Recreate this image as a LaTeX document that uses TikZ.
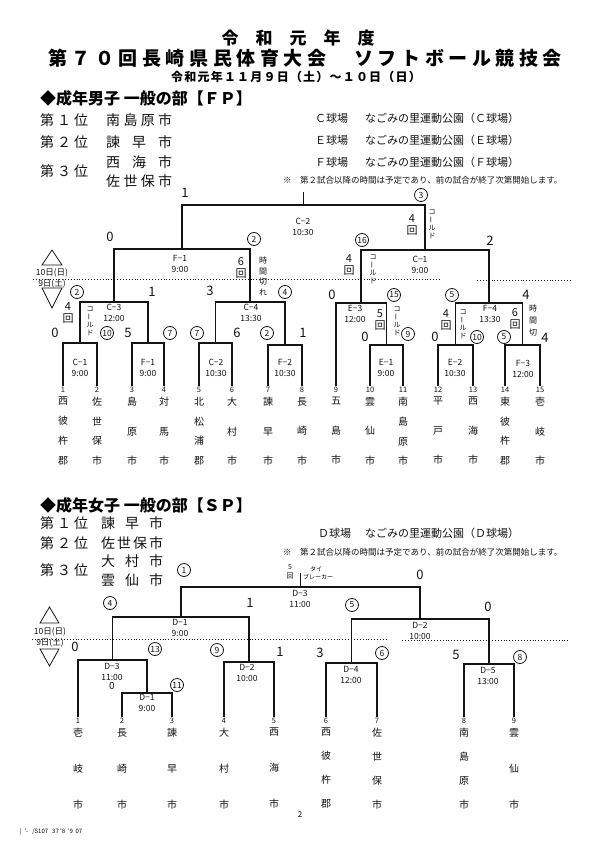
\documentclass[tikz,border=0pt]{standalone}
\usepackage{fontspec}
\usepackage{graphicx}
\setmainfont{Noto Sans CJK JP}
\newfontfamily\ttlfont[LetterSpace=24]{Noto Sans CJK JP}
\newfontfamily\dtfont[LetterSpace=10]{Noto Sans CJK JP}
\definecolor{scanInk}{RGB}{20,20,20}
\newcommand\cho{\rotatebox[origin=c]{90}{ー}}
\newcommand\kold{コ\\\cho\\ル\\ド}
\tikzset{
  bk/.style={draw=scanInk,line width=1.6pt},
  dayline/.style={draw=scanInk,dotted,line width=0.9pt},
  mlab/.style={font=\fontsize{8.5}{11}\selectfont,align=center,inner sep=0pt,text=scanInk},
  sc/.style={font=\fontsize{13}{13}\selectfont,inner sep=0pt,text=scanInk},
  kai/.style={font=\fontsize{11}{12}\selectfont,align=center,inner sep=0pt,text=scanInk},
  cn/.style={circle,draw=scanInk,line width=0.8pt,inner sep=0pt,minimum size=13pt,
    font=\fontsize{8.5}{8.5}\selectfont,text=scanInk},
  vn/.style={font=\fontsize{7}{8}\selectfont,align=center,inner sep=0pt,anchor=north,text=scanInk},
  tnum/.style={font=\fontsize{7.5}{7.5}\selectfont,inner sep=0.5pt,anchor=north,text=scanInk},
  tnm3/.style={font=\fontsize{10}{29.5}\selectfont,align=center,inner sep=0pt,anchor=north,text=scanInk},
  tnm4/.style={font=\fontsize{10}{19.7}\selectfont,align=center,inner sep=0pt,anchor=north,text=scanInk},
  wnm3/.style={font=\fontsize{10}{36}\selectfont,align=center,inner sep=0pt,anchor=north,text=scanInk},
  wnm4/.style={font=\fontsize{10}{24}\selectfont,align=center,inner sep=0pt,anchor=north,text=scanInk},
  res/.style={font=\fontsize{14}{14}\selectfont,anchor=west,inner sep=0pt,text=scanInk},
  venue/.style={font=\fontsize{11}{11}\selectfont,anchor=west,inner sep=0pt,text=scanInk},
  note/.style={font=\fontsize{8.5}{8.5}\selectfont,anchor=west,inner sep=0pt,text=scanInk},
  dayl/.style={font=\fontsize{8.5}{8.5}\selectfont,inner sep=0pt,text=scanInk},
  tri/.style={draw=scanInk,line width=0.8pt}
}

\begin{document}
\begin{tikzpicture}[x=1pt,y=-1pt]
        \useasboundingbox (0,0) rectangle (595,842);
        \fill[white] (0,0) rectangle (595,842);
        % Titulo
        \node[font=\bfseries\fontsize{17}{17}\selectfont,inner sep=0pt] (ttl1) at (298,38)
          {令\hspace{17pt}和\hspace{17pt}元\hspace{17pt}年\hspace{17pt}度};
        \node[font=\ttlfont\bfseries\fontsize{19}{19}\selectfont,inner sep=0pt] (ttl2) at (305,58)
          {第７０回長崎県民体育大会　ソフトボール競技会};
        \node[font=\dtfont\bfseries\fontsize{12}{12}\selectfont,inner sep=0pt] (ttl3) at (296,77)
          {令和元年１１月９日（土）～１０日（日）};
        % Men: heading and results
        \node[font=\bfseries\fontsize{16}{16}\selectfont,anchor=west,inner sep=0pt] (hdM) at (40,98)
          {◆成年男子 一般の部【ＦＰ】};
        \node[res] (rkM1) at (40,120) {\makebox[48pt]{第\hfill{}１\hfill{}位}};
        \node[res] (tmM1) at (106,120) {\makebox[66pt]{南\hfill{}島\hfill{}原\hfill{}市}};
        \node[res] (rkM2) at (40,142) {\makebox[48pt]{第\hfill{}２\hfill{}位}};
        \node[res] (tmM2) at (106,142) {\makebox[66pt]{諫\hfill{}早\hfill{}市}};
        \node[res] (rkM3) at (40,171) {\makebox[48pt]{第\hfill{}３\hfill{}位}};
        \node[res] (tmM3a) at (106,162) {\makebox[66pt]{西\hfill{}海\hfill{}市}};
        \node[res] (tmM3b) at (106,181) {\makebox[66pt]{佐\hfill{}世\hfill{}保\hfill{}市}};
        \node[venue] (vC) at (315,118) {Ｃ球場};
        \node[venue] (vCn) at (365,118) {なごみの里運動公園（Ｃ球場）};
        \node[venue] (vE) at (315,140) {Ｅ球場};
        \node[venue] (vEn) at (365,140) {なごみの里運動公園（Ｅ球場）};
        \node[venue] (vF) at (315,162) {Ｆ球場};
        \node[venue] (vFn) at (365,162) {なごみの里運動公園（Ｆ球場）};
        \node[note] (ntM) at (283,180) {※　第２試合以降の時間は予定であり、前の試合が終了次第開始します。};
        % Men: teams
        \foreach \x/\n/\nm/\k in {63/1/{西\\彼\\杵\\郡}/4, 97/2/{佐\\世\\保\\市}/4,
            132/3/{島\\原\\市}/3, 164/4/{対\\馬\\市}/3, 199/5/{北\\松\\浦\\郡}/4,
            232/6/{大\\村\\市}/3, 268/7/{諫\\早\\市}/3, 302/8/{長\\崎\\市}/3,
            336/9/{五\\島\\市}/3, 370/10/{雲\\仙\\市}/3, 403/11/{南\\島\\原\\市}/4,
            438/12/{平\\戸\\市}/3, 473/13/{西\\海\\市}/3, 505/14/{東\\彼\\杵\\郡}/4,
            540/15/{壱\\岐\\市}/3}{
          \node[tnum] (ta\n) at (\x,386) {\n};
          \node[tnm\k] (na\n) at (\x,397) {\nm};
        }
        % Men: match points
        \coordinate (mC1) at (80,343);
        \coordinate (mF1) at (148,343);
        \coordinate (mC2) at (215.5,343);
        \coordinate (mF2) at (285,345);
        \coordinate (mE1) at (386.5,345);
        \coordinate (mE2) at (455.5,345);
        \coordinate (mF3) at (522.5,345);
        \coordinate (mC3) at (114,302);
        \coordinate (mC4) at (250,302);
        \coordinate (mE3) at (361,303);
        \coordinate (mF4) at (489,303);
        \coordinate (mF1b) at (182,249);
        \coordinate (mC1b) at (425,250);
        \coordinate (mC2b) at (303.5,205);
        \coordinate (topM) at (303.5,192);
        % Men: brackets
        \draw[bk] (ta1.north) |- (mC1) -| (ta2.north);
        \draw[bk] (ta3.north) |- (mF1) -| (ta4.north);
        \draw[bk] (ta5.north) |- (mC2) -| (ta6.north);
        \draw[bk] (ta7.north) |- (mF2) -| (ta8.north);
        \draw[bk] (ta10.north) |- (mE1) -| (ta11.north);
        \draw[bk] (ta12.north) |- (mE2) -| (ta13.north);
        \draw[bk] (ta14.north) |- (mF3) -| (ta15.north);
        \draw[bk] (mC1) |- (mC3) -| (mF1);
        \draw[bk] (mC2) |- (mC4) -| (mF2);
        \draw[bk] (ta9.north) |- (mE3) -| (mE1);
        \draw[bk] (mE2) |- (mF4) -| (mF3);
        \draw[bk] (mC3) |- (mF1b) -| (mC4);
        \draw[bk] (mE3) |- (mC1b) -| (mF4);
        \draw[bk] (mF1b) |- (mC2b) -| (mC1b);
        \draw[bk] (mC2b) -- (topM);
        % Men: game labels
        \node[mlab] (lC2b) at (303,227) {C−2\\10:30};
        \node[mlab] (lF1b) at (180,263.5) {F−1\\9:00};
        \node[mlab] (lC1b) at (420,264.5) {C−1\\9:00};
        \node[mlab] (lC3) at (114,312.5) {C−3\\12:00};
        \node[mlab] (lC4) at (251,313) {C−4\\13:30};
        \node[mlab] (lE3) at (355,313.5) {E−3\\12:00};
        \node[mlab] (lF4) at (490,314) {F−4\\13:30};
        \node[mlab] (lC1) at (80,367.5) {C−1\\9:00};
        \node[mlab] (lF1) at (148,367.5) {F−1\\9:00};
        \node[mlab] (lC2) at (216,367.5) {C−2\\10:30};
        \node[mlab] (lF2) at (285,367.5) {F−2\\10:30};
        \node[mlab] (lE1) at (386,367.5) {E−1\\9:00};
        \node[mlab] (lE2) at (455,367.5) {E−2\\10:30};
        \node[mlab] (lF3) at (523,368.5) {F−3\\12:00};
        % Men: day line
        \draw[dayline] (33,279) -- (440,279);
        \draw[dayline] (477,280) -- (572,280);
        \draw[tri] (42,265) -- (52,250) -- (62,265) -- cycle;
        \draw[tri] (42,288) -- (62,288) -- (52,308) -- cycle;
        \node[dayl] (d10M) at (52,273) {10日(日)};
        \node[dayl] (d9M) at (52,284) {9日(土)};
        % Men: scores
        \node[sc] (sM1) at (185,193) {1};
        \node[sc] (sM2) at (110,237) {0};
        \node[sc] (sM3) at (490,241) {2};
        \node[sc] (sM4) at (152,292) {1};
        \node[sc] (sM5) at (210,291) {3};
        \node[sc] (sM6) at (55,333) {0};
        \node[sc] (sM7) at (128,333) {5};
        \node[sc] (sM8) at (237,333) {6};
        \node[sc] (sM9) at (303,333) {1};
        \node[sc] (sM10) at (332,295) {0};
        \node[sc] (sM11) at (365,337) {0};
        \node[sc] (sM12) at (435,337) {0};
        \node[sc] (sM13) at (526,295) {4};
        \node[sc] (sM14) at (545,338) {4};
        % Men: innings
        \node[kai] (kM1) at (412,225) {4\\回};
        \node[kai] (kM2) at (241,268) {6\\回};
        \node[kai] (kM3) at (349,265) {4\\回};
        \node[kai] (kM4) at (68,313) {4\\回};
        \node[kai] (kM5) at (380,320) {5\\回};
        \node[kai] (kM6) at (446,320) {4\\回};
        \node[kai] (kM7) at (515,319) {6\\回};
        \node[vn] (vM1) at (432,209) {\kold};
        \node[vn] (vM2) at (373,254) {\kold};
        \node[vn] (vM3) at (90,306) {\kold};
        \node[vn] (vM4) at (397,306) {\kold};
        \node[vn] (vM5) at (463,309) {\kold};
        \node[vn,font=\fontsize{8}{10.5}\selectfont] (vM6) at (263,257) {時\\間\\切\\れ};
        \node[vn,font=\fontsize{8}{12}\selectfont] (vM7) at (533,305) {時\\間\\切};
        % Men: circled numbers
        \node[cn] (cM1) at (421,195) {3};
        \node[cn] (cM2) at (254,239) {2};
        \node[cn] (cM3) at (285,292) {4};
        \node[cn] (cM4) at (362,240) {16};
        \node[cn] (cM5) at (77,292) {2};
        \node[cn] (cM6) at (107,333) {10};
        \node[cn] (cM7) at (170,333) {7};
        \node[cn] (cM8) at (197,333) {7};
        \node[cn] (cM9) at (267,333) {2};
        \node[cn] (cM10) at (394,295) {15};
        \node[cn] (cM11) at (408,334) {9};
        \node[cn] (cM12) at (452,295) {5};
        \node[cn] (cM13) at (477,337) {10};
        \node[cn] (cM14) at (504,337) {5};
        % Women: heading and results
        \node[font=\bfseries\fontsize{16}{16}\selectfont,anchor=west,inner sep=0pt] (hdW) at (40,505)
          {◆成年女子 一般の部【ＳＰ】};
        \node[res] (rkW1) at (40,523) {\makebox[48pt]{第\hfill{}１\hfill{}位}};
        \node[res] (tmW1) at (101,523) {\makebox[62pt]{諫\hfill{}早\hfill{}市}};
        \node[res] (rkW2) at (40,543) {\makebox[48pt]{第\hfill{}２\hfill{}位}};
        \node[res] (tmW2) at (101,543) {\makebox[62pt]{佐\hfill{}世\hfill{}保\hfill{}市}};
        \node[res] (rkW3) at (40,570) {\makebox[48pt]{第\hfill{}３\hfill{}位}};
        \node[res] (tmW3a) at (101,561) {\makebox[62pt]{大\hfill{}村\hfill{}市}};
        \node[res] (tmW3b) at (101,580) {\makebox[62pt]{雲\hfill{}仙\hfill{}市}};
        \node[venue] (vD) at (318,533) {Ｄ球場};
        \node[venue] (vDn) at (365,533) {なごみの里運動公園（Ｄ球場）};
        \node[note] (ntW) at (283,552) {※　第２試合以降の時間は予定であり、前の試合が終了次第開始します。};
        % Women: teams
        \foreach \x/\n/\nm/\k in {78/1/{壱\\岐\\市}/3, 122/2/{長\\崎\\市}/3,
            172/3/{諫\\早\\市}/3, 224/4/{大\\村\\市}/3, 274/5/{西\\海\\市}/3,
            326/6/{西\\彼\\杵\\郡}/4, 377/7/{佐\\世\\保\\市}/4,
            464/8/{南\\島\\原\\市}/4, 514/9/{雲\\仙\\市}/3}{
          \node[tnum] (tb\n) at (\x,717) {\n};
          \node[wnm\k] (nb\n) at (\x,728) {\nm};
        }
        % Women: match points
        \coordinate (wD1) at (147,693);
        \coordinate (wD2) at (249,662);
        \coordinate (wD4) at (351.5,663);
        \coordinate (wD5) at (489,664);
        \coordinate (wD3) at (112.5,660);
        \coordinate (wD1b) at (181,617);
        \coordinate (wD2b) at (420,619);
        \coordinate (wD3b) at (300.5,587);
        \coordinate (topW) at (300.5,573);
        % Women: brackets
        \draw[bk] (tb2.north) |- (wD1) -| (tb3.north);
        \draw[bk] (tb4.north) |- (wD2) -| (tb5.north);
        \draw[bk] (tb6.north) |- (wD4) -| (tb7.north);
        \draw[bk] (tb8.north) |- (wD5) -| (tb9.north);
        \draw[bk] (tb1.north) |- (wD3) -| (wD1);
        \draw[bk] (wD3) |- (wD1b) -| (wD2);
        \draw[bk] (wD4) |- (wD2b) -| (wD5);
        \draw[bk] (wD1b) |- (wD3b) -| (wD2b);
        \draw[bk] (wD3b) -- (topW);
        % Women: game labels
        \node[mlab] (lD3b) at (300,599) {D−3\\11:00};
        \node[mlab] (lD1b) at (180,628) {D−1\\9:00};
        \node[mlab] (lD2b) at (420,630.5) {D−2\\10:00};
        \node[mlab] (lD3) at (112,671.5) {D−3\\11:00};
        \node[mlab] (lD1) at (147,703) {D−1\\9:00};
        \node[mlab] (lD2) at (247,673) {D−2\\10:00};
        \node[mlab] (lD4) at (351,674.5) {D−4\\12:00};
        \node[mlab] (lD5) at (488,675.5) {D−5\\13:00};
        % Women: day line
        \draw[dayline] (32,639) -- (388,639);
        \draw[dayline] (402,640) -- (570,640);
        \draw[tri] (40,623) -- (49.5,607) -- (59,623) -- cycle;
        \draw[tri] (40,649) -- (59,649) -- (49.5,666) -- cycle;
        \node[dayl] (d10W) at (50,632) {10日(日)};
        \node[dayl] (d9W) at (50,643) {9日(土)};
        % Women: scores
        \node[sc] (sW1) at (420,575) {0};
        \node[sc] (sW2) at (250,603) {1};
        \node[sc] (sW3) at (488,607) {0};
        \node[sc] (sW4) at (75,647) {0};
        \node[sc] (sW5) at (280,652) {1};
        \node[sc] (sW6) at (320,653) {3};
        \node[sc] (sW7) at (456,655) {5};
        \node[sc,font=\fontsize{10}{10}\selectfont] (sW8) at (112,686) {0};
        \node[vn,font=\fontsize{7}{9}\selectfont] (kW1) at (290,564) {5\\回};
        \node[font=\fontsize{6}{6}\selectfont,inner sep=0pt] (tbW1) at (316,569) {タイ};
        \node[font=\fontsize{6}{6}\selectfont,inner sep=0pt] (tbW2) at (318,577) {ブレーカー};
        % Women: circled numbers
        \node[cn] (cW1) at (184,570) {1};
        \node[cn] (cW2) at (110,603) {4};
        \node[cn] (cW3) at (352,605) {5};
        \node[cn] (cW4) at (155,649) {13};
        \node[cn] (cW5) at (217,650) {9};
        \node[cn] (cW6) at (382,653) {6};
        \node[cn] (cW7) at (520,657) {8};
        \node[cn] (cW8) at (177,685) {11};
        % Pagina
        \node[font=\fontsize{8}{8}\selectfont,inner sep=0pt] (pg) at (300,815) {2};
        \node[font=\fontsize{6}{6}\selectfont,anchor=west,inner sep=0pt] (fax) at (20,832)
          {|\ \ '-\ \ \ /S107\ \ \ 37 '8\ \ '9\ \ 07};
      \end{tikzpicture}
\end{document}
